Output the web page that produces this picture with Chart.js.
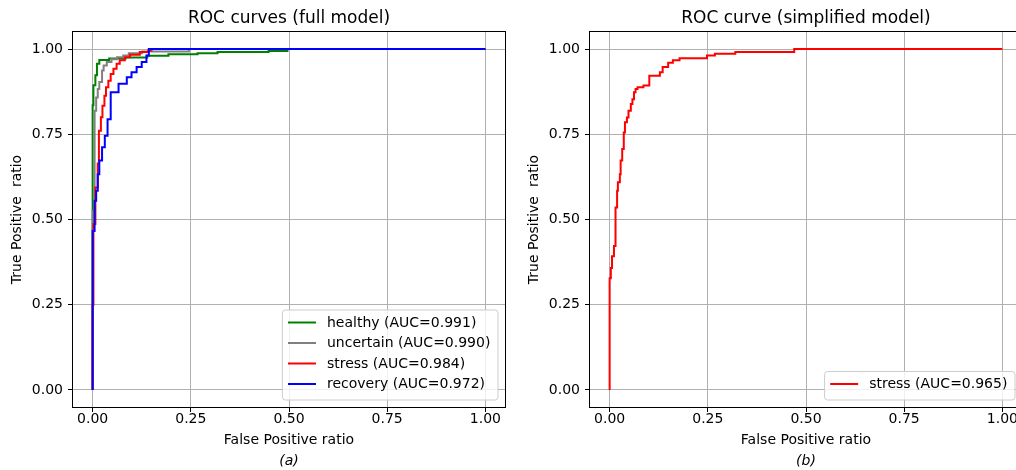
<!DOCTYPE html>
<html><head><meta charset="utf-8">
<script src="https://cdn.jsdelivr.net/npm/chart.js@4.4.1/dist/chart.umd.min.js"></script>
<style>
html,body{margin:0;padding:0;background:#fff;overflow:hidden;width:1016px;height:470px;}
#wrap{position:relative;width:1016px;height:470px;overflow:hidden;background:#fff;}
canvas{position:absolute;top:0;}
#c1{left:0;} #c2{left:517px;}
</style></head><body>
<div id="wrap"><canvas id="c1" width="520" height="470"></canvas><canvas id="c2" width="520" height="470"></canvas></div>
<script>
// ---- data ----
const axisTicks = [0, 0.25, 0.5, 0.75, 1.0];
const classNames = ['healthy', 'uncertain', 'stress', 'recovery'];
const aucFull = [0.991, 0.990, 0.984, 0.972];
const aucSimplified = [0.965];

const healthyFpr = [0, 0, 0.002, 0.007, 0.011, 0.017, 0.042, 0.084, 0.139, 0.193, 0.267, 0.318, 0.448, 0.496, 1.0];
const healthyTpr = [0, 0.835, 0.894, 0.923, 0.957, 0.968, 0.972, 0.975, 0.980, 0.985, 0.988, 0.991, 0.994, 1.0, 1.0];

const uncertainFpr = [0, 0, 0.005, 0.009, 0.013, 0.017, 0.024, 0.028, 0.036, 0.048, 0.062, 0.078, 0.092, 0.126, 0.245, 1.0];
const uncertainTpr = [0, 0.525, 0.819, 0.858, 0.883, 0.903, 0.937, 0.952, 0.962, 0.970, 0.976, 0.981, 0.988, 0.993, 1.0, 1.0];

const stressFpr = [0, 0, 0.002, 0.007, 0.013, 0.016, 0.021, 0.025, 0.030, 0.034, 0.040, 0.046, 0.053, 0.061, 0.069, 0.082, 0.095, 0.120, 0.142, 0.150, 1.0];
const stressTpr = [0, 0.25, 0.487, 0.594, 0.664, 0.760, 0.800, 0.834, 0.863, 0.888, 0.907, 0.927, 0.942, 0.957, 0.967, 0.976, 0.983, 0.991, 0.996, 1.0, 1.0];

const recoveryFpr = [0, 0, 0.005, 0.009, 0.013, 0.017, 0.024, 0.031, 0.038, 0.046, 0.066, 0.087, 0.099, 0.112, 0.125, 0.137, 0.143, 1.0];
const recoveryTpr = [0, 0.466, 0.555, 0.584, 0.633, 0.673, 0.712, 0.746, 0.794, 0.873, 0.898, 0.917, 0.932, 0.947, 0.962, 0.981, 1.0, 1.0];

const simpleStressFpr = [0, 0, 0.003, 0.006, 0.011, 0.015, 0.019, 0.021, 0.026, 0.028, 0.032, 0.036, 0.039, 0.044, 0.048, 0.054, 0.058, 0.062, 0.066, 0.071, 0.086, 0.101, 0.128, 0.135, 0.149, 0.161, 0.178, 0.248, 0.268, 0.320, 0.470, 1.0];
const simpleStressTpr = [0, 0.328, 0.358, 0.392, 0.422, 0.535, 0.584, 0.609, 0.633, 0.673, 0.707, 0.755, 0.785, 0.799, 0.819, 0.839, 0.853, 0.873, 0.883, 0.888, 0.893, 0.922, 0.932, 0.947, 0.960, 0.967, 0.973, 0.981, 0.986, 0.991, 1.0, 1.0];

// ---- rendering ----
Chart.defaults.font.family = '"DejaVu Sans", sans-serif';
Chart.defaults.color = '#000';

function pts(xs, ys) { return xs.map((x, i) => ({ x: x, y: ys[i] })); }
function ds(label, xs, ys, color, order) {
  return { label, data: pts(xs, ys), borderColor: color, backgroundColor: color, showLine: true,
           stepped: true, pointRadius: 0, borderWidth: 2, fill: false, order };
}

const framePlugin = {
  id: 'frame',
  afterDatasetsDraw(chart) {
    const { ctx, chartArea: a } = chart;
    ctx.save();
    ctx.strokeStyle = '#000';
    ctx.lineWidth = 1;
    ctx.strokeRect(Math.round(a.left) - 0.5, Math.round(a.top) - 0.5,
                   Math.round(a.right - a.left) + 1, Math.round(a.bottom - a.top) + 1);
    ctx.restore();
  }
};

const boxLegend = {
  id: 'boxLegend',
  afterDraw(chart) {
    const { ctx, chartArea: a } = chart;
    const items = chart.data.datasets.map(d => ({ label: d.label, color: d.borderColor }));
    ctx.save();
    ctx.font = '14px "DejaVu Sans"';
    const pad = 5.6, hl = 28, htp = 11, row = 20.5;
    const tw = Math.max(...items.map(i => ctx.measureText(i.label).width));
    const w = pad + hl + htp + tw + pad + 2;
    const h = items.length * row + 8;
    const right = a.right - 7, bottom = a.bottom - 7;
    const left = right - w, top = bottom - h;
    ctx.beginPath();
    ctx.roundRect(left, top, w, h, 3);
    ctx.fillStyle = 'rgba(255,255,255,0.8)';
    ctx.fill();
    ctx.strokeStyle = '#cccccc';
    ctx.lineWidth = 1;
    ctx.stroke();
    items.forEach((it, i) => {
      const y = top + 12.5 + i * row;
      ctx.strokeStyle = it.color; ctx.lineWidth = 2;
      ctx.beginPath(); ctx.moveTo(left + pad, y); ctx.lineTo(left + pad + hl, y); ctx.stroke();
      ctx.fillStyle = '#000'; ctx.textBaseline = 'middle'; ctx.textAlign = 'left';
      ctx.fillText(it.label, left + pad + hl + htp, y + 0.5);
    });
    ctx.restore();
  }
};

function axisCfg(titleText, isX) {
  const cfg = {
    type: 'linear', min: -0.05, max: 1.05,
    afterBuildTicks: s => { s.ticks = axisTicks.map(v => ({ value: v })); },
    ticks: { callback: v => Number(v).toFixed(2), font: { size: 14 }, color: '#000',
             maxRotation: 0, autoSkip: false, padding: isX ? -1 : 5 },
    grid: { color: '#b0b0b0', lineWidth: 1, tickLength: 5, tickColor: '#000', tickWidth: 1 },
    border: { display: false },
    title: { display: true, text: titleText, font: { size: 14 }, color: '#000',
             padding: isX ? { top: 0, bottom: 4 } : { top: 8.6, bottom: 0 } }
  };
  if (isX) cfg.afterFit = s => { s.height = 46.2; };
  else cfg.afterFit = s => { s.width = 73; };
  return cfg;
}

function makeChart(id, datasets, titleText, subText) {
  return new Chart(document.getElementById(id), {
    type: 'scatter',
    data: { datasets },
    options: {
      responsive: false, animation: false, devicePixelRatio: 1, events: [],
      layout: { padding: { left: 0, right: 15, top: 0, bottom: 0 } },
      scales: { x: axisCfg('False Positive ratio', true), y: axisCfg('True Positive  ratio', false) },
      plugins: {
        legend: { display: false }, tooltip: { enabled: false },
        title: { display: true, text: titleText, fullSize: false, color: '#000',
                 font: { size: 17, weight: 'normal' }, padding: { top: 8, bottom: 3.6 } },
        subtitle: { display: true, text: subText, position: 'bottom', fullSize: false, color: '#000',
                    font: { size: 14, style: 'italic', weight: 'normal' }, padding: { top: 0, bottom: 0 } }
      }
    },
    plugins: [framePlugin, boxLegend]
  });
}

const fullSets = [
  ds(`${classNames[0]} (AUC=${aucFull[0].toFixed(3)})`, healthyFpr, healthyTpr, '#008000', 4),
  ds(`${classNames[1]} (AUC=${aucFull[1].toFixed(3)})`, uncertainFpr, uncertainTpr, '#808080', 3),
  ds(`${classNames[2]} (AUC=${aucFull[2].toFixed(3)})`, stressFpr, stressTpr, '#ff0000', 2),
  ds(`${classNames[3]} (AUC=${aucFull[3].toFixed(3)})`, recoveryFpr, recoveryTpr, '#0000ff', 1)
];
const simpleSets = [
  ds(`${classNames[2]} (AUC=${aucSimplified[0].toFixed(3)})`, simpleStressFpr, simpleStressTpr, '#ff0000', 1)
];

makeChart('c1', fullSets, 'ROC curves (full model)', '(a)');
makeChart('c2', simpleSets, 'ROC curve (simplified model)', '(b)');
</script>
</body></html>
